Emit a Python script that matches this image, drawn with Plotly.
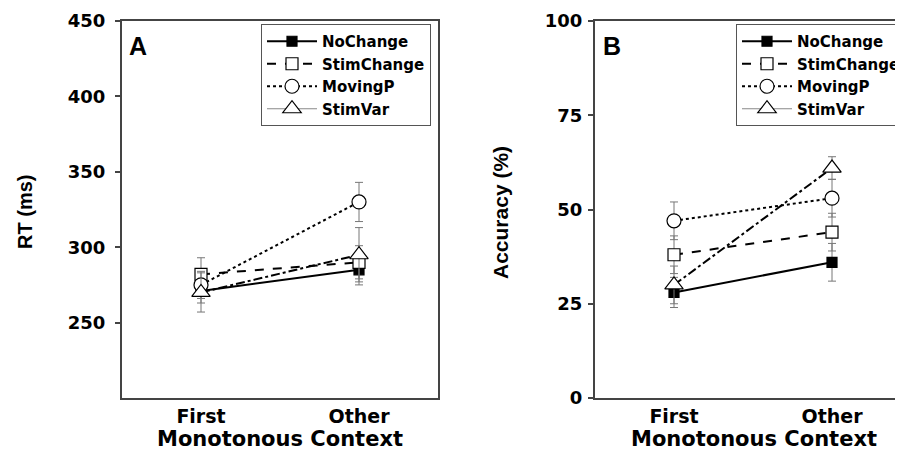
import plotly.graph_objects as go

categories = ["First", "Other"]
series_names = ["NoChange", "StimChange", "MovingP", "StimVar"]

rt_nochange = [271, 285]
rt_stimchange = [282, 290]
rt_movingp = [275, 330]
rt_stimvar = [270, 295]
rt_err_nochange = [8, 10]
rt_err_stimchange = [11, 11]
rt_err_movingp = [9, 13]
rt_err_stimvar = [13, 18]

acc_nochange = [28, 36]
acc_stimchange = [38, 44]
acc_movingp = [47, 53]
acc_stimvar = [30, 61]
acc_err_nochange = [4, 5]
acc_err_stimchange = [5, 5]
acc_err_movingp = [5, 5]
acc_err_stimvar = [5, 3]

rt_ticks = [250, 300, 350, 400, 450]
acc_ticks = [0, 25, 50, 75, 100]

OFF = 8  # page body margin
W, H = 903 - OFF, 455 - OFF
BOLD = dict(family="DejaVu Sans", weight="bold", color="black")
ARIALB = dict(family="Liberation Sans", weight="bold", color="black")

styles = {
    "NoChange": dict(dash="solid", symbol="square", fill="black", size=10),
    "StimChange": dict(dash="dash", symbol="square", fill="white", size=12),
    "MovingP": dict(dash="dot", symbol="circle", fill="white", size=14),
    "StimVar": dict(dash="dashdot", symbol="triangle-up", fill="white", size=16),
}

fig = go.Figure()

def add_panel(vals, errs, xa, ya):
    for name, v, e in zip(series_names, vals, errs):
        st = styles[name]
        fig.add_trace(go.Scatter(
            x=categories, y=v, xaxis=xa, yaxis=ya, mode="lines+markers",
            line=dict(color="black", width=2, dash=st["dash"]),
            marker=dict(symbol=st["symbol"], size=st["size"],
                        color=st["fill"], line=dict(color="black", width=1.2)),
            error_y=dict(type="data", array=e, color="#777", thickness=1, width=4),
            showlegend=False, cliponaxis=False,
        ))

add_panel([rt_nochange, rt_stimchange, rt_movingp, rt_stimvar],
          [rt_err_nochange, rt_err_stimchange, rt_err_movingp, rt_err_stimvar], "x", "y")
add_panel([acc_nochange, acc_stimchange, acc_movingp, acc_stimvar],
          [acc_err_nochange, acc_err_stimchange, acc_err_movingp, acc_err_stimvar], "x2", "y2")

# legend-only entries
for lg in ["legend", "legend2"]:
    for name in series_names:
        st = styles[name]
        if name == "StimVar":
            ln = dict(color="#888", width=1, dash="solid")
        else:
            ln = dict(color="black", width=2, dash=st["dash"])
        fig.add_trace(go.Scatter(
            x=[None], y=[None], mode="lines+markers", name=name, legend=lg,
            line=ln,
            marker=dict(symbol=st["symbol"], size=st["size"],
                        color=st["fill"], line=dict(color="black", width=1.2)),
        ))

def px_x(p):
    return (p - OFF) / W

def px_y(p):
    return 1 - (p - OFF) / H

axis_line = dict(showline=True, linecolor="#444", linewidth=2, showgrid=False, zeroline=False)

fig.update_layout(
    width=W, height=H, margin=dict(l=0, r=0, t=0, b=0, autoexpand=False),
    paper_bgcolor="white", plot_bgcolor="white",
    xaxis=dict(domain=[px_x(122), px_x(438)], type="category", range=[-0.5, 1.5],
               anchor="y", mirror=True, ticks="", tickfont=dict(size=19, **BOLD),
               **axis_line),
    yaxis=dict(domain=[px_y(398), px_y(21)], range=[200, 450], tickvals=rt_ticks,
               anchor="x", mirror=True, ticks="outside", ticklen=5, tickcolor="#444",
               tickwidth=1.5, tickfont=dict(size=18, **BOLD), ticklabelstandoff=6,
               **axis_line),
    xaxis2=dict(domain=[px_x(595), 1], type="category",
                range=[-0.5, -0.5 + (903 - 595) / 316 * 2],
                anchor="y2", mirror=True, ticks="", tickfont=dict(size=19, **BOLD),
                **axis_line),
    yaxis2=dict(domain=[px_y(398), px_y(21)], range=[0, 100], tickvals=acc_ticks,
                anchor="x2", mirror=False, ticks="outside", ticklen=5, tickcolor="#444",
                tickwidth=1.5, tickfont=dict(size=18, **BOLD), ticklabelstandoff=2,
                **axis_line),
    legend=dict(x=px_x(261), y=px_y(24), xanchor="left", yanchor="top",
                bordercolor="#555", borderwidth=1, bgcolor="white",
                font=dict(size=15, **BOLD), itemwidth=50, tracegroupgap=0,
                itemclick=False),
    legend2=dict(x=px_x(736), y=px_y(24), xanchor="left", yanchor="top",
                 bordercolor="#555", borderwidth=1, bgcolor="white",
                 font=dict(size=15, **BOLD), itemwidth=50, tracegroupgap=0,
                 itemclick=False),
)

ann = [
    dict(text="A", x=px_x(127), y=px_y(30), xanchor="left", yanchor="top",
         font=dict(size=25, **ARIALB)),
    dict(text="B", x=px_x(601), y=px_y(30), xanchor="left", yanchor="top",
         font=dict(size=25, **ARIALB)),
    dict(text="Monotonous Context", x=px_x(280), y=px_y(439), xanchor="center", yanchor="middle",
         font=dict(size=21, **BOLD)),
    dict(text="Monotonous Context", x=px_x(754), y=px_y(439), xanchor="center", yanchor="middle",
         font=dict(size=21, **BOLD)),
    dict(text="RT (ms)", x=px_x(25), y=px_y(212), xanchor="center", yanchor="middle",
         textangle=-90, font=dict(size=20, **ARIALB)),
    dict(text="Accuracy (%)", x=px_x(500), y=px_y(213), xanchor="center", yanchor="middle",
         textangle=-90, font=dict(size=21, **ARIALB)),
]
for a in ann:
    fig.add_annotation(xref="paper", yref="paper", showarrow=False, **a)

fig.write_html("out.html")
